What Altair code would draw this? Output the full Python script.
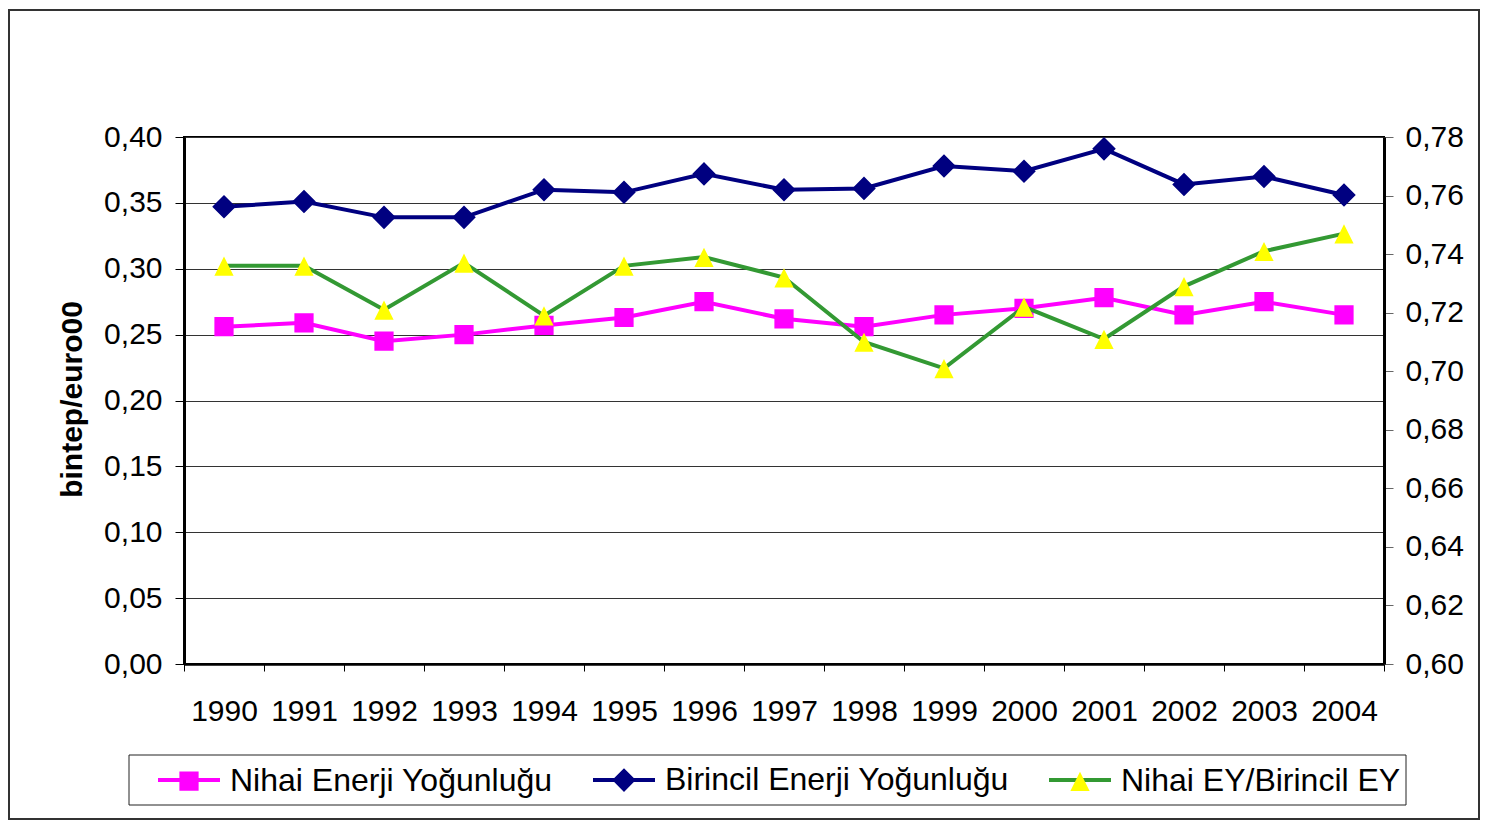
import altair as alt
import pandas as pd

years = ["1990", "1991", "1992", "1993", "1994", "1995", "1996", "1997",
         "1998", "1999", "2000", "2001", "2002", "2003", "2004"]
nihai = [0.256, 0.259, 0.245, 0.250, 0.257, 0.263, 0.275, 0.262,
         0.256, 0.265, 0.270, 0.278, 0.265, 0.275, 0.265]
birincil = [0.347, 0.351, 0.339, 0.339, 0.360, 0.358, 0.372, 0.360,
            0.361, 0.378, 0.374, 0.391, 0.364, 0.370, 0.356]
oran = [0.736, 0.736, 0.721, 0.737, 0.719, 0.736, 0.739, 0.732,
        0.710, 0.701, 0.722, 0.711, 0.729, 0.741, 0.747]

series_names = ["Nihai Enerji Yoğunluğu", "Birincil Enerji Yoğunluğu", "Nihai EY/Birincil EY"]
line_colors = ["#FF00FF", "#000080", "#339933"]
marker_colors = ["#FF00FF", "#000080", "#FFFF00"]
# marker outlines inside a [-1,1] box; the zero-area segment M-1,0H1 keeps the
# legend entry as wide as the line symbol so both legends lay out identically
marker_paths = [
    "M-1,0H1M-0.31,-0.31H0.31V0.31H-0.31Z",
    "M-1,0H1M0,-0.38L0.38,0L0,0.38L-0.38,0Z",
    "M-1,0H1M0,-0.3L0.31,0.32L-0.31,0.32Z",
]
line_symbol = "M-1,0H1"
left_ticks = [0.0, 0.05, 0.10, 0.15, 0.20, 0.25, 0.30, 0.35, 0.40]
right_ticks = [0.60, 0.62, 0.64, 0.66, 0.68, 0.70, 0.72, 0.74, 0.76, 0.78]

rows_left = []
for s, vals in [(series_names[0], nihai), (series_names[1], birincil)]:
    for yr, v in zip(years, vals):
        rows_left.append({"Yıl": yr, "Değer": v, "Seri": s, "Seri2": s})
df_left = pd.DataFrame(rows_left)
df_right = pd.DataFrame({"Yıl": years, "Değer": oran,
                         "Seri": series_names[2], "Seri2": series_names[2]})

FONT = "Liberation Sans"
LX, LY = -28, 610

leg_common = dict(title=None, orient="none", legendX=LX, legendY=LY,
                  direction="horizontal", symbolSize=3844, symbolStrokeWidth=4,
                  labelFontSize=32, labelFont=FONT, labelOffset=8,
                  columnPadding=32, padding=0, labelLimit=700, labelColor="black",
                  gridAlign="each")

x_enc = alt.X("Yıl:O", sort=years,
              scale=alt.Scale(type="band", paddingInner=0, paddingOuter=0),
              axis=alt.Axis(title=None, labelAngle=0, tickBand="extent", tickSize=7,
                            labelPadding=25, labelFontSize=30, labelFont=FONT,
                            labelColor="black", domainColor="black", domainWidth=2.5,
                            tickColor="black", tickWidth=1, grid=False))

stroke_enc = alt.Stroke("Seri:N", sort=series_names,
                        scale=alt.Scale(range=line_colors),
                        legend=alt.Legend(symbolType=line_symbol,
                                          symbolFillColor="transparent",
                                          labelOpacity=0, **leg_common))
fill_enc = alt.Fill("Seri2:N",
                    scale=alt.Scale(domain=series_names, range=marker_colors),
                    legend=alt.Legend(symbolStrokeColor="transparent", symbolOpacity=1,
                                      **leg_common))
shape_enc = alt.Shape("Seri2:N",
                      scale=alt.Scale(domain=series_names, range=marker_paths),
                      legend=alt.Legend(symbolStrokeColor="transparent", symbolOpacity=1,
                                        **leg_common))

fmt = "replace(format(datum.value, '.2f'), '.', ',')"

y_left = alt.Y("Değer:Q",
               scale=alt.Scale(domain=[0, 0.40], nice=False, zero=False),
               axis=alt.Axis(values=left_ticks, labelExpr=fmt, title="bintep/euro00",
                             titleFont=FONT, titleFontSize=30, titleFontWeight="bold",
                             titleColor="black", titleX=-112, titleY=262, titleAngle=270,
                             titleAlign="center", titleBaseline="middle",
                             labelFontSize=30, labelFont=FONT, labelColor="black",
                             tickSize=9, labelPadding=13, tickColor="black",
                             domainColor="black", domainWidth=3,
                             grid=True, gridColor="#333333", gridWidth=1))
y_right = alt.Y("Değer:Q",
                scale=alt.Scale(domain=[0.60, 0.78], nice=False, zero=False),
                axis=alt.Axis(orient="right", values=right_ticks, labelExpr=fmt, title=None,
                              labelFontSize=30, labelFont=FONT, labelColor="black",
                              tickSize=9, labelPadding=12, tickColor="#666666",
                              domainColor="black", domainWidth=3, grid=False))

frame = alt.Chart(pd.DataFrame({"a": [0]})).mark_rect(
    fill=None, stroke="#333333", strokeWidth=2, clip=False
).encode(x=alt.value(-175), x2=alt.value(1295), y=alt.value(-127), y2=alt.value(682))

legend_box = alt.Chart(pd.DataFrame({"a": [0]})).mark_rect(
    fill=None, stroke="#222222", strokeWidth=1, clip=False
).encode(x=alt.value(-55), x2=alt.value(1222), y=alt.value(618), y2=alt.value(668))

line_left = alt.Chart(df_left).mark_line(strokeWidth=4).encode(
    x=x_enc, y=y_left, stroke=stroke_enc, detail="Seri:N")
pts_left = alt.Chart(df_left).mark_point(filled=True, size=3844, opacity=1, strokeWidth=0).encode(
    x=x_enc, y=y_left, fill=fill_enc, shape=shape_enc)

line_right = alt.Chart(df_right).mark_line(strokeWidth=4).encode(
    x=x_enc, y=y_right, stroke=stroke_enc)
pts_right = alt.Chart(df_right).mark_point(filled=True, size=3844, opacity=1, strokeWidth=0).encode(
    x=x_enc, y=y_right, fill=fill_enc, shape=shape_enc)

left = alt.layer(frame, legend_box, line_left, pts_left)
right = alt.layer(line_right, pts_right)

chart = alt.layer(left, right).resolve_scale(y="independent").properties(
    width=1200, height=527,
    autosize=alt.AutoSizeParams(type="none"),
    padding={"left": 176, "top": 129, "right": 96, "bottom": 156},
    background="white",
).configure_view(stroke="black", strokeWidth=2)

chart.save("out.html", embed_options={"renderer": "svg", "actions": False})
